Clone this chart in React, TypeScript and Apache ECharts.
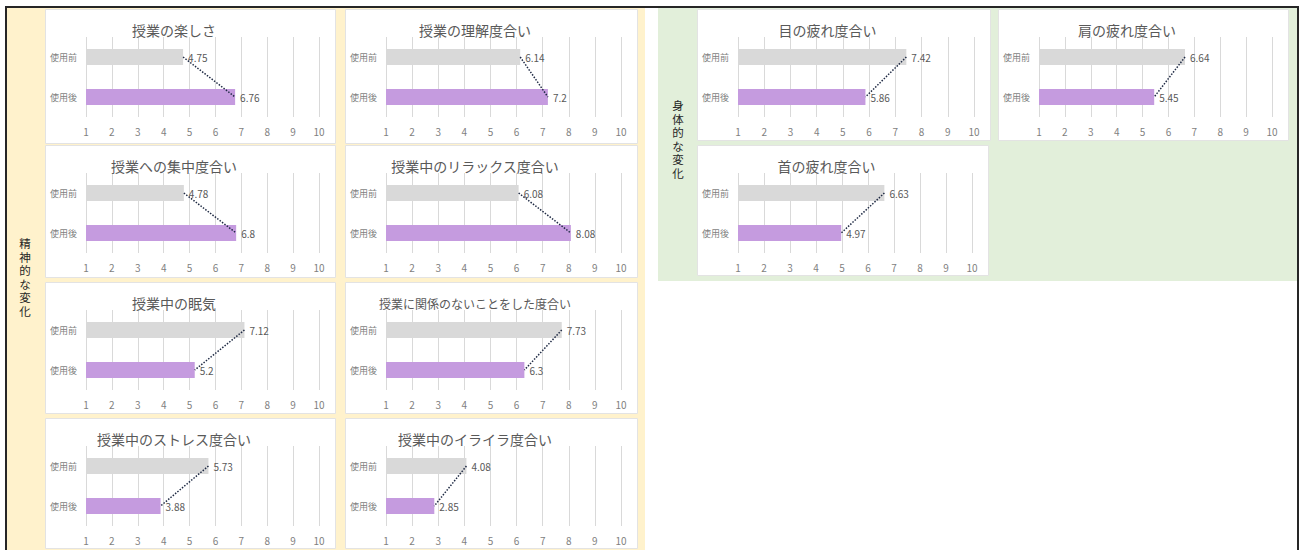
import React, { useEffect, useRef } from 'react';
import * as echarts from 'echarts';

const categories = ['使用前', '使用後'];

const mentalTitles = [
  '授業の楽しさ',
  '授業の理解度合い',
  '授業への集中度合い',
  '授業中のリラックス度合い',
  '授業中の眠気',
  '授業に関係のないことをした度合い',
  '授業中のストレス度合い',
  '授業中のイライラ度合い',
];
const mentalBefore = [4.75, 6.14, 4.78, 6.08, 7.12, 7.73, 5.73, 4.08];
const mentalAfter = [6.76, 7.2, 6.8, 8.08, 5.2, 6.3, 3.88, 2.85];

const physicalTitles = ['目の疲れ度合い', '肩の疲れ度合い', '首の疲れ度合い'];
const physicalBefore = [7.42, 6.64, 6.63];
const physicalAfter = [5.86, 5.45, 4.97];

const axisMin = 1;
const axisMax = 10;
const axisInterval = 1;

const groupLabels = ['精神的な変化', '身体的な変化'];

const FONT = '"Noto Sans CJK JP", "Noto Sans", sans-serif';
const GRAY_BAR = '#D9D9D9';
const PURPLE_BAR = '#C59BDF';
const YELLOW = '#FFF2CC';
const GREEN = '#E2EFDA';

type Panel = { x: number; y: number; w: number; h: number; title: string; before: number; after: number };

function buildPanels(): Panel[] {
  const panels: Panel[] = [];
  const colX = [45, 345];
  const colW = [290, 292];
  const rowY = [9, 145, 282, 418];
  const rowH = [134, 132, 131, 130];
  mentalTitles.forEach((t, i) => {
    const c = i % 2;
    const r = Math.floor(i / 2);
    panels.push({ x: colX[c], y: rowY[r], w: colW[c], h: rowH[r], title: t, before: mentalBefore[i], after: mentalAfter[i] });
  });
  const phys = [
    { x: 697, y: 9, w: 293, h: 131 },
    { x: 998, y: 9, w: 290, h: 131 },
    { x: 697, y: 145, w: 291, h: 130 },
  ];
  physicalTitles.forEach((t, i) => {
    panels.push({ ...phys[i], title: t, before: physicalBefore[i], after: physicalAfter[i] });
  });
  return panels;
}

function verticalText(label: string, cx: number, cy: number): any[] {
  const chars = label.split('');
  const step = 13.5;
  const start = cy - ((chars.length - 1) * step) / 2;
  return chars.map((ch, k) => ({
    type: 'text', z: 20, x: cx, y: start + k * step,
    style: {
      text: ch, fill: '#262626', font: `11.5px "Liberation Sans", "Noto Sans CJK JP", sans-serif`,
      lineHeight: 11, textAlign: 'center', textVerticalAlign: 'middle',
    },
  }));
}

export default function App() {
  const ref = useRef<HTMLDivElement>(null);
  useEffect(() => {
    if (!ref.current) return;
    const chart = echarts.init(ref.current, undefined, { renderer: 'svg' });
    const panels = buildPanels();

    const graphic: any[] = [
      { type: 'rect', z: -20, shape: { x: 7, y: 8, width: 638, height: 542 }, style: { fill: YELLOW } },
      { type: 'rect', z: -20, shape: { x: 658, y: 8, width: 639, height: 273 }, style: { fill: GREEN } },
      { type: 'line', z: 20, shape: { x1: 5, y1: 7, x2: 1299, y2: 7 }, style: { stroke: '#262626', lineWidth: 2 } },
      { type: 'line', z: 20, shape: { x1: 6, y1: 6, x2: 6, y2: 550 }, style: { stroke: '#262626', lineWidth: 2 } },
      { type: 'line', z: 20, shape: { x1: 1298, y1: 6, x2: 1298, y2: 550 }, style: { stroke: '#262626', lineWidth: 2 } },
      ...verticalText(groupLabels[0], 25, 278),
      ...verticalText(groupLabels[1], 678, 140),
    ];

    const grid: any[] = [];
    const xAxis: any[] = [];
    const yAxis: any[] = [];
    const series: any[] = [];

    panels.forEach((p, i) => {
      graphic.push({
        type: 'rect', z: -10,
        shape: { x: p.x + 0.5, y: p.y + 0.5, width: p.w, height: p.h },
        style: { fill: '#FFFFFF', stroke: '#E3E3E3', lineWidth: 1 },
      });
      const fs = p.title.length > 14 ? 12 : 14;
      graphic.push({
        type: 'text', z: 20,
        x: p.x + p.w / 2 - 16, y: p.y + 21,
        style: { text: p.title, fill: '#595959', font: `${fs}px ${FONT}`, textAlign: 'center', textVerticalAlign: 'middle' },
      });
      grid.push({ left: p.x + 41, top: p.y + 28, width: p.w - 57, height: 80, containLabel: false });
      xAxis.push({
        type: 'value', gridIndex: i, min: axisMin, max: axisMax, interval: axisInterval,
        axisLine: { show: false }, axisTick: { show: false },
        splitLine: { show: true, lineStyle: { color: '#D9D9D9', width: 1 } },
        axisLabel: { show: true, fontSize: 10, color: '#7F7F7F', margin: 9, fontFamily: FONT, showMinLabel: true, showMaxLabel: true },
      });
      yAxis.push({
        type: 'category', gridIndex: i, data: categories, inverse: true,
        axisLine: { show: false }, axisTick: { show: false },
        axisLabel: { fontSize: 9, color: '#7F7F7F', margin: 9, fontFamily: FONT },
      });
      series.push({
        type: 'bar', xAxisIndex: i, yAxisIndex: i, barWidth: 16, z: 2,
        data: [
          { value: p.before, itemStyle: { color: GRAY_BAR } },
          { value: p.after, itemStyle: { color: PURPLE_BAR } },
        ],
        label: { show: true, position: 'right', distance: 5, fontSize: 10, color: '#595959', fontFamily: FONT },
      });
      series.push({
        type: 'line', xAxisIndex: i, yAxisIndex: i, z: 5, symbol: 'none', showSymbol: false,
        data: [[p.before, categories[0]], [p.after, categories[1]]],
        lineStyle: { type: [1.5, 1.5], color: '#1F2A44', width: 1.5 },
      });
    });

    chart.setOption({
      animation: false,
      backgroundColor: '#FFFFFF',
      textStyle: { fontFamily: FONT },
      graphic,
      grid,
      xAxis,
      yAxis,
      series,
    });
    return () => chart.dispose();
  }, []);
  return <div ref={ref} style={{ position: 'absolute', left: 0, top: 0, width: 1301, height: 550 }} />;
}
